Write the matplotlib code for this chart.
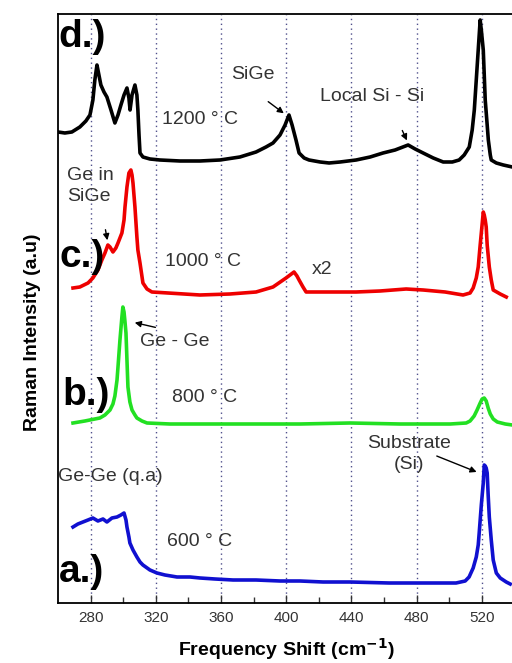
import matplotlib
matplotlib.use("Agg")
import matplotlib.pyplot as plt

plt.rcParams['font.family'] = ['Liberation Sans', 'DejaVu Sans']

# spectra (frequency in cm-1, intensity in arbitrary units, already offset)
freq_d = [260, 264.2, 268.5, 273.4, 277.1, 279.6, 281.4, 282.6, 283.9, 285.1, 286.3, 288.2, 290.0,
          292.5, 294.9, 296.8, 298.6, 300.5, 302.3, 303.5, 304.2, 305.4, 307.2, 308.4, 309.0, 309.7,
          310.3, 312.1, 316.4, 322.5, 334.8, 347.1, 359.4, 371.6, 381.5, 387.6, 391.9, 396.2, 399.3,
          401.7, 403.6, 406.0, 407.9, 411.0, 414.0, 420.8, 426.3, 433.1, 442.9, 451.5, 459.4, 466.8,
          474.8, 479.1, 484.0, 490.2, 496.3, 501.9, 506.1, 509.2, 512.3, 514.1, 515.4, 516.6, 517.8,
          519.0, 519.7, 520.9, 521.5, 522.1, 523.3, 524.0, 525.2, 525.8, 528.9, 533.2, 538.7]
int_d = [471, 470, 471, 476, 482, 488, 503, 523, 538, 528, 518, 511, 506,
         493, 480, 488, 498, 508, 515, 505, 493, 508, 518, 508, 493, 468,
         450, 446, 444, 443, 442, 442, 443, 446, 451, 456, 460, 468, 478,
         488, 478, 463, 450, 445, 443, 441, 440, 441, 443, 446, 450, 453,
         458, 454, 450, 445, 441, 441, 443, 448, 456, 473, 493, 523, 553,
         583, 573, 553, 528, 503, 478, 463, 448, 443, 440, 438, 436]

freq_c = [269.2, 273.4, 278.4, 281.4, 284.5, 286.9, 288.8, 290.6, 291.9, 293.7, 295.5, 296.8, 298.0,
          299.2, 300.5, 301.1, 302.3, 303.5, 304.7, 305.4, 306.0, 306.6, 307.2, 307.8, 308.4, 309.0,
          310.3, 312.1, 314.6, 317.6, 327.5, 347.1, 365.5, 381.5, 391.9, 399.9, 404.8, 406.6, 407.9,
          410.3, 412.2, 426.9, 442.9, 457.6, 473.6, 484.0, 497.5, 508.5, 512.8, 514.7, 516.6, 517.8,
          519.0, 519.7, 520.9, 521.5, 522.1, 522.7, 523.3, 524.6, 525.8, 527.0, 531.3, 535.0]
int_c = [315, 316, 320, 325, 333, 343, 350, 358, 356, 351, 355, 360, 365,
         370, 383, 396, 416, 430, 433, 428, 420, 408, 396, 381, 366, 353,
         340, 320, 314, 311, 310, 308, 309, 311, 316, 325, 331, 327, 323,
         316, 311, 311, 311, 312, 314, 313, 311, 308, 310, 315, 325, 336,
         358, 370, 391, 388, 383, 376, 358, 336, 323, 313, 309, 306]

freq_b = [269.2, 276.5, 282.6, 285.7, 288.8, 291.9, 293.7, 294.9, 296.2, 296.8, 298.0, 299.2, 299.8,
          300.5, 301.1, 301.7, 302.3, 302.9, 304.1, 305.4, 307.2, 308.4, 311.5, 314.6, 328.7, 347.1,
          377.8, 408.5, 439.2, 469.9, 500.6, 510.4, 512.8, 515.3, 517.1, 519.0, 520.2, 521.5, 522.7,
          523.9, 525.2, 527.0, 529.5, 534.4, 538.7]
int_b = [180, 182, 184, 185, 188, 193, 199, 207, 223, 236, 263, 286, 296,
         291, 281, 270, 243, 216, 201, 193, 188, 185, 182, 180, 179, 179,
         179, 179, 180, 179, 179, 180, 182, 187, 193, 200, 204, 205, 202,
         195, 189, 184, 181, 179, 178]

freq_a = [269.2, 272.2, 275.3, 278.4, 281.4, 284.5, 287.6, 290.0, 293.1, 296.2, 298.6, 300.5, 301.7,
          302.3, 303.5, 304.1, 306.0, 308.4, 310.3, 312.1, 316.4, 320.7, 325.6, 333.0, 341.0, 347.1,
          356.3, 367.4, 381.5, 396.2, 408.5, 422.6, 439.2, 463.1, 482.1, 504.2, 509.8, 512.2, 514.7,
          516.6, 517.8, 518.4, 519.7, 520.9, 521.5, 522.1, 522.7, 523.3, 523.9, 524.6, 525.8, 527.0,
          528.9, 531.3, 535.0, 537.4]
int_a = [76, 79, 81, 83, 85, 82, 84, 81, 85, 86, 88, 90, 83,
         76, 66, 60, 53, 46, 41, 38, 33, 30, 28, 26, 26, 25,
         24, 23, 23, 22, 22, 21, 21, 20, 20, 20, 22, 26, 35,
         46, 58, 70, 98, 120, 138, 137, 135, 130, 108, 86, 63, 43,
         30, 25, 21, 19]

xticks = [280, 320, 360, 400, 440, 480, 520]

fig = plt.figure(figsize=(5.12, 6.63), dpi=100)
ax = fig.add_axes([0.1133, 0.0905, 0.8914, 0.8884])

for x in xticks:
    ax.axvline(x, color='#50508c', lw=1.0, ls=(0, (1, 2.5)), zorder=1)

ax.plot(freq_d, int_d, color='black', lw=2.6, zorder=3)
ax.plot(freq_c, int_c, color='#ee0000', lw=2.6, zorder=3)
ax.plot(freq_b, int_b, color='#22e022', lw=2.6, zorder=3)
ax.plot(freq_a, int_a, color='#1010d0', lw=2.6, zorder=3)

ax.set_xlim(260, 540)
ax.set_ylim(0, 589)
ax.set_xticks(xticks)
ax.set_xticks([300, 340, 380, 420, 460, 500], minor=True)
ax.set_yticks([])
ax.tick_params(axis='x', which='both', direction='in', top=False, colors='#333333',
               labelsize=11, pad=6)
ax.tick_params(axis='x', which='major', length=6, width=1)
ax.tick_params(axis='x', which='minor', length=4, width=1)
for s in ['left', 'top', 'bottom']:
    ax.spines[s].set_linewidth(1.3)
ax.spines['right'].set_visible(False)

ax.set_xlabel('Frequency Shift (cm$^{\\mathbf{-1}}$)', fontsize=14, fontweight='bold', labelpad=8)
ax.set_ylabel('Raman Intensity (a.u)', fontsize=14, fontweight='bold')
ax.yaxis.set_label_coords(-0.038, 0.46)

# panel letters
for lab, x, y in [('d.)', 260.5, 556), ('c.)', 261.2, 336), ('b.)', 262.4, 198), ('a.)', 260.3, 21)]:
    ax.text(x, y, lab, fontsize=28, fontweight='bold', ha='left', va='baseline', zorder=5)

txt = dict(fontsize=14, color='#333333', zorder=5)
ax.text(323.8, 483, '1200 \u00b0 C', ha='left', va='center', **txt)
ax.text(325.7, 341, '1000 \u00b0 C', ha='left', va='center', **txt)
ax.text(330.0, 205, '800 \u00b0 C', ha='left', va='center', **txt)
ax.text(326.9, 61, '600 \u00b0 C', ha='left', va='center', **txt)
ax.text(422.1, 333, 'x2', ha='center', va='center', **txt)
ax.text(260.3, 126, 'Ge-Ge (q.a)', ha='left', va='center', **txt)

arrow = dict(arrowstyle='-|>', color='black', lw=1, mutation_scale=9)
ax.text(379.7, 528, 'SiGe', ha='center', va='center', **txt)
ax.annotate('', xy=(399.9, 488), xytext=(387.6, 503), arrowprops=arrow)
ax.text(452.8, 506, 'Local Si - Si', ha='center', va='center', **txt)
ax.annotate('', xy=(474.8, 460), xytext=(470.5, 475), arrowprops=arrow)
ax.text(265.5, 417, 'Ge in\nSiGe', ha='left', va='center', linespacing=1.25, **txt)
ax.annotate('', xy=(290.6, 360), xytext=(288.8, 376), arrowprops=arrow)
ax.text(331.9, 261, 'Ge - Ge', ha='center', va='center', **txt)
ax.annotate('', xy=(305.4, 281), xytext=(321.4, 275), arrowprops=arrow)
ax.text(475.5, 149, 'Substrate\n(Si)', ha='center', va='center', linespacing=1.3, **txt)
ax.annotate('', xy=(518.4, 130), xytext=(490.8, 148), arrowprops=arrow)

fig.savefig('out.png', dpi=100)
